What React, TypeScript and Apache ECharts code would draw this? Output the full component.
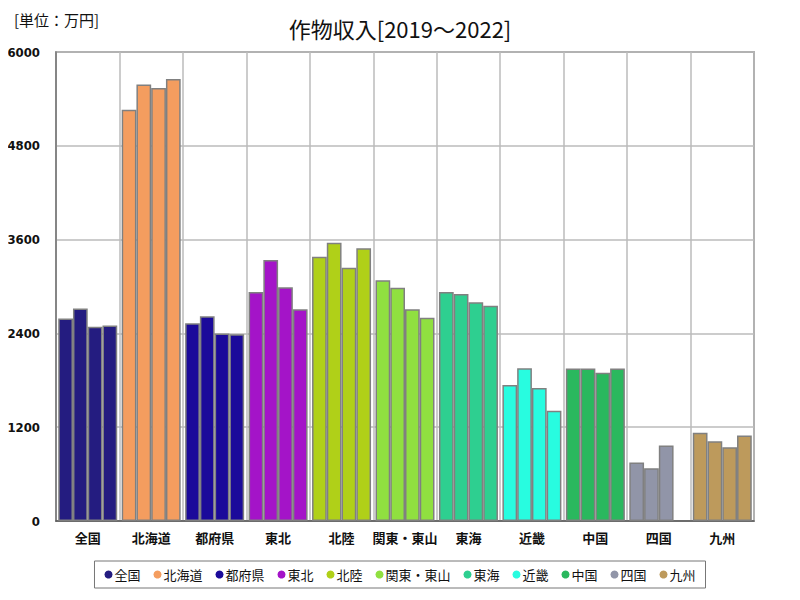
import React, { useEffect, useRef } from "react";
import * as echarts from "echarts";

const categories = ["全国", "北海道", "都府県", "東北", "北陸", "関東・東山", "東海", "近畿", "中国", "四国", "九州"];
const years = ["2019", "2020", "2021", "2022"];
const categoryColors = ["#241c80", "#f49d5f", "#1b0a9a", "#a414c8", "#b0d018", "#90e040", "#2ecf90", "#28fce0", "#2ab85e", "#9195a8", "#bd9a5c"];
// values per year, indexed by category
const v2019 = [2590, 5260, 2530, 2930, 3380, 3080, 2930, 1740, 1950, 750, 1130];
const v2020 = [2720, 5585, 2620, 3340, 3560, 2985, 2905, 1955, 1950, 675, 1020];
const v2021 = [2485, 5540, 2400, 2990, 3240, 2710, 2800, 1700, 1895, 965, 945];
const v2022 = [2500, 5655, 2390, 2710, 3490, 2600, 2755, 1410, 1950, null, 1095];
const yearValues = [v2019, v2020, v2021, v2022];
const yTicks = { min: 0, max: 6000, interval: 1200 };

const JP = "'Noto Sans CJK JP', sans-serif";

export default function App() {
  const ref = useRef<HTMLDivElement>(null);
  useEffect(() => {
    if (!ref.current) return;
    const chart = echarts.init(ref.current, undefined, { renderer: "svg" });
    const barSeries = years.map((y, yi) => ({
      name: y,
      type: "bar",
      barGap: "0%",
      barCategoryGap: "7%",
      data: yearValues[yi].map((v, ci) => ({
        value: v === null ? "-" : v,
        itemStyle: { color: categoryColors[ci], borderColor: "#808080", borderWidth: 1.5 },
      })),
    }));
    const legendSeries = categories.map((c, ci) => ({
      name: c,
      type: "line",
      data: [],
      color: categoryColors[ci],
    }));
    chart.setOption({
      animation: false,
      backgroundColor: "#ffffff",
      title: [
        {
          text: "作物収入[2019～2022]",
          left: "center",
          top: 12,
          textStyle: { fontFamily: JP, fontSize: 22, fontWeight: "normal", color: "#111" },
        },
        {
          text: "[単位：万円]",
          left: 9,
          top: 7,
          textStyle: { fontFamily: JP, fontSize: 15, fontWeight: "normal", color: "#111" },
        },
      ],
      legend: {
        data: categories,
        bottom: 12,
        left: "center",
        icon: "circle",
        itemWidth: 8,
        itemHeight: 8,
        itemGap: 13,
        borderColor: "#777",
        borderWidth: 1,
        padding: [7, 10],
        textStyle: { fontFamily: JP, fontSize: 13, color: "#111", padding: [0, 0, 0, -3] },
      },
      grid: {
        left: 56,
        right: 46,
        top: 52,
        bottom: 79,
        show: true,
        borderColor: "#777",
        borderWidth: 1.5,
        backgroundColor: "transparent",
      },
      xAxis: {
        type: "category",
        data: categories,
        axisLine: { lineStyle: { color: "#555", width: 1.5 } },
        axisTick: { show: false },
        splitLine: { show: true, lineStyle: { color: "#bbb", width: 1.5 } },
        axisLabel: { fontFamily: JP, fontSize: 13, fontWeight: "bold", color: "#111", margin: 10, interval: 0 },
      },
      yAxis: {
        type: "value",
        min: yTicks.min,
        max: yTicks.max,
        interval: yTicks.interval,
        axisLine: { show: true, lineStyle: { color: "#777", width: 1.5 } },
        axisTick: { show: false },
        splitLine: { show: true, lineStyle: { color: "#bbb", width: 1.5 } },
        axisLabel: {
          formatter: (v: number) => String(v),
          fontFamily: "'Liberation Sans Narrow', 'DejaVu Sans Condensed', sans-serif",
          fontSize: 13,
          fontWeight: "bold",
          color: "#111",
          margin: 16,
        },
      },
      series: [...barSeries, ...legendSeries],
    });
    return () => chart.dispose();
  }, []);
  return <div ref={ref} style={{ width: 800, height: 600, margin: -8 }} />;
}
